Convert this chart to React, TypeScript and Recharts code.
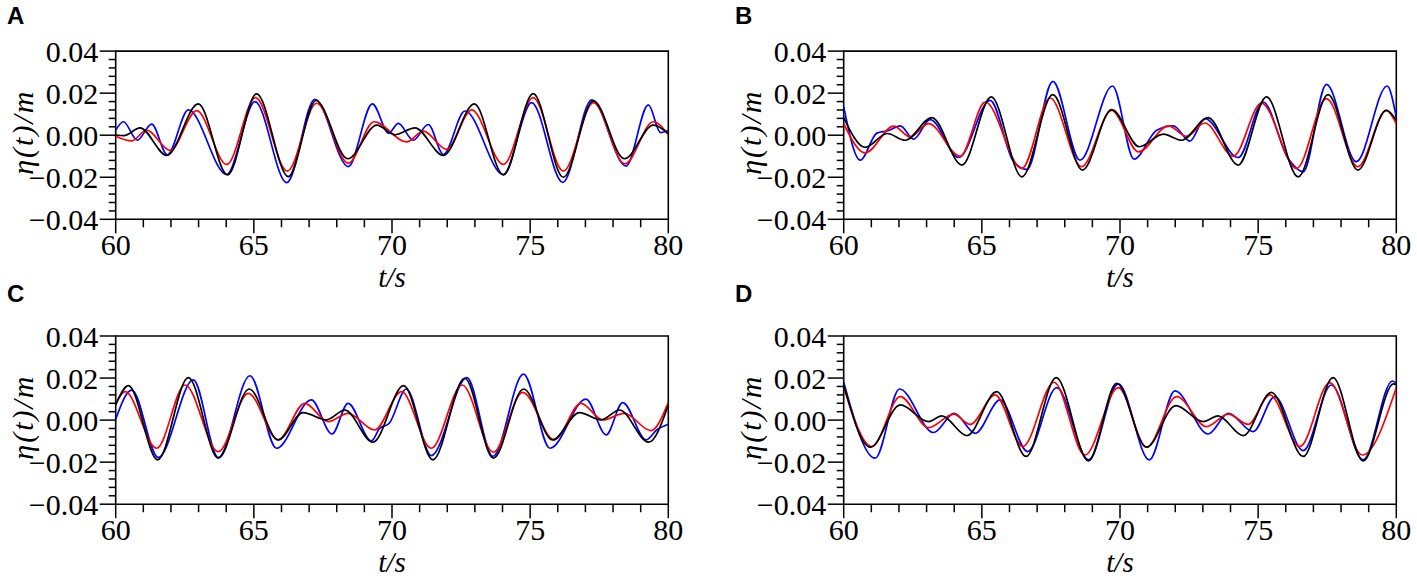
import { LineChart, Line, XAxis, YAxis, ReferenceArea } from 'recharts';

type Pt = [number, number];

// time axis (s) and elevation axis (m)
const X_TICKS = [60, 61, 62, 63, 64, 65, 66, 67, 68, 69, 70, 71, 72, 73, 74, 75, 76, 77, 78, 79, 80];
const X_LABELS = [60, 65, 70, 75, 80];
const Y_TICKS = [-0.04, -0.036, -0.032, -0.028, -0.024, -0.02, -0.016, -0.012, -0.008, -0.004, 0,
    0.004, 0.008, 0.012, 0.016, 0.02, 0.024, 0.028, 0.032, 0.036, 0.04];
const Y_LABELS = [-0.04, -0.02, 0, 0.02, 0.04];

// panel A
const A_BLUE: Pt[] = [[60, 0.0024], [60.28, 0.0064], [60.78, -0.0024], [61.3, 0.0053], [61.87, -0.0093], [62.63, 0.012],
    [64.02, -0.0187], [65.04, 0.016], [66.19, -0.0226], [67.21, 0.0171], [68.42, -0.0149], [69.29, 0.0149], [69.88, 0.001],
    [70.23, 0.0056], [70.77, -0.0024], [71.31, 0.0051], [71.86, -0.0091], [72.64, 0.0115], [74.03, -0.0187], [75.05, 0.0155],
    [76.18, -0.0224], [77.23, 0.0168], [78.47, -0.0147], [79.28, 0.0144], [79.72, 0.0012], [80, 0.0022]];
const A_RED: Pt[] = [[60, -0.0005], [60.58, -0.0027], [61.12, 0.0024], [61.97, -0.0072], [62.93, 0.0117], [64.02, -0.0139],
    [65.06, 0.0179], [66.21, -0.0171], [67.27, 0.0152], [68.42, -0.0133], [69.35, 0.0064], [70.53, -0.0032], [71.13, 0.0019],
    [71.98, -0.0067], [72.88, 0.012], [74.03, -0.0139], [75.11, 0.0179], [76.2, -0.0171], [77.29, 0.0155], [78.43, -0.0136],
    [79.46, 0.0064], [80, 0.0003]];
const A_BLACK: Pt[] = [[60, 0.0001], [60.3, -0.0002], [60.88, 0.0035], [61.85, -0.0096], [62.99, 0.0149], [64.05, -0.0189],
    [65.1, 0.0197], [66.25, -0.0197], [67.25, 0.0165], [68.4, -0.0112], [69.45, 0.0048], [70.1, 0.0002], [70.83, 0.0035],
    [71.86, -0.0096], [72.98, 0.0149], [74.03, -0.0189], [75.11, 0.0198], [76.2, -0.02], [77.29, 0.0163], [78.41, -0.0112],
    [79.46, 0.0048], [80, 0.0008]];

// panel B
const B_BLUE: Pt[] = [[60, 0.0134], [60.6, -0.0119], [61.2, 0.001], [61.6, 0.0021], [62.05, 0.0044], [62.53, -0.0019],
    [63.13, 0.0074], [64.16, -0.0106], [65.3, 0.0166], [66.14, -0.0124], [66.63, -0.0163], [67.57, 0.0256], [68.55, -0.0119],
    [69.73, 0.0234], [70.51, -0.0114], [71.33, 0.0024], [71.93, 0.0044], [72.53, -0.0028], [73.07, 0.0079], [74.28, -0.0106],
    [75.18, 0.0158], [76.08, -0.011], [76.63, -0.0174], [77.47, 0.0242], [78.55, -0.0126], [79.67, 0.0234], [80, 0.0084]];
const B_RED: Pt[] = [[60, 0.0055], [60.78, -0.0084], [61.81, 0.0043], [62.41, -0.0008], [63.07, 0.0055], [64.22, -0.01],
    [65.12, 0.0158], [66.45, -0.0158], [67.47, 0.0177], [68.61, -0.015], [69.7, 0.0118], [70.67, -0.0079], [71.75, 0.0044],
    [72.41, -0.0005], [73.07, 0.0058], [74.1, -0.01], [75.12, 0.0153], [76.39, -0.0158], [77.47, 0.0174], [78.61, -0.015],
    [79.64, 0.0118], [80, 0.0055]];
const B_BLACK: Pt[] = [[60, 0.0084], [60.78, -0.0058], [61.57, 0.0008], [62.23, -0.0024], [63.19, 0.0084], [64.28, -0.0142],
    [65.34, 0.0182], [66.45, -0.0198], [67.57, 0.0193], [68.64, -0.0166], [69.7, 0.0122], [70.7, -0.0055], [71.57, 0.0005],
    [72.23, -0.0024], [73.19, 0.0084], [74.28, -0.0142], [75.3, 0.0182], [76.45, -0.0198], [77.53, 0.0193], [78.61, -0.0166],
    [79.64, 0.0118], [80, 0.0071]];

// panel C
const C_BLUE: Pt[] = [[60, 0.0004], [60.58, 0.0143], [61.54, -0.0178], [62.81, 0.0191], [63.71, -0.0178], [64.86, 0.0211],
    [65.82, -0.0134], [67.08, 0.0096], [67.83, -0.0066], [68.41, 0.008], [69.25, -0.0099], [69.55, -0.004], [69.9, -0.0015],
    [70.52, 0.0148], [71.42, -0.0169], [72.71, 0.0202], [73.65, -0.0173], [74.76, 0.0219], [75.72, -0.0134], [77.02, 0.01],
    [77.75, -0.007], [78.35, 0.0083], [79.2, -0.0094], [79.58, -0.0047], [80, -0.002]];
const C_RED: Pt[] = [[60, 0.008], [60.34, 0.0135], [61.48, -0.0134], [62.51, 0.0167], [63.71, -0.015], [64.8, 0.0127],
    [65.88, -0.0094], [66.84, 0.008], [67.69, -0.0007], [68.41, 0.0032], [69.37, -0.0047], [70.34, 0.0135], [71.42, -0.0134],
    [72.54, 0.0167], [73.67, -0.0153], [74.73, 0.0132], [75.87, -0.0094], [76.84, 0.008], [77.63, 0.0001], [78.41, 0.0032],
    [79.37, -0.005], [80, 0.0085]];
const C_BLACK: Pt[] = [[60, 0.0072], [60.46, 0.0164], [61.52, -0.0189], [62.63, 0.0202], [63.71, -0.0181], [64.83, 0.0148],
    [65.88, -0.0094], [66.78, 0.0036], [67.63, 0.0001], [68.29, 0.0048], [69.31, -0.0105], [70.42, 0.0164], [71.48, -0.0189],
    [72.63, 0.0199], [73.67, -0.0181], [74.76, 0.0148], [75.81, -0.0094], [76.78, 0.0036], [77.57, 0.0001], [78.23, 0.0048],
    [79.29, -0.0105], [80, 0.0072]];

// panel D
const D_BLUE: Pt[] = [[60, 0.018], [61.14, -0.0181], [62.02, 0.0148], [63.25, -0.0059], [64.0, 0.0032], [64.76, -0.0063],
    [65.66, 0.0096], [66.66, -0.015], [67.71, 0.0154], [68.86, -0.0189], [69.94, 0.0172], [71.06, -0.0189], [71.99, 0.0139],
    [73.19, -0.0066], [73.92, 0.0032], [74.82, -0.0055], [75.6, 0.0112], [76.63, -0.0145], [77.65, 0.0167], [78.8, -0.0189],
    [79.86, 0.0186], [80, 0.0175]];
const D_RED: Pt[] = [[60, 0.0159], [61.02, -0.0126], [62.05, 0.0112], [63.07, -0.0036], [63.98, 0.0028], [64.58, -0.002],
    [65.48, 0.012], [66.48, -0.0126], [67.61, 0.018], [68.73, -0.0166], [69.94, 0.0154], [70.96, -0.0129], [72.05, 0.0112],
    [73.13, -0.0031], [73.92, 0.0028], [74.64, -0.002], [75.42, 0.012], [76.51, -0.0126], [77.59, 0.0178], [78.77, -0.0166],
    [80, 0.0154]];
const D_BLACK: Pt[] = [[60, 0.0167], [60.96, -0.0129], [62.05, 0.0072], [63.07, -0.0007], [63.55, 0.002], [64.46, -0.0074],
    [65.54, 0.0135], [66.6, -0.0173], [67.69, 0.0202], [68.86, -0.0194], [69.88, 0.0175], [70.96, -0.0129], [72.02, 0.0069],
    [73.01, -0.0007], [73.55, 0.002], [74.46, -0.0074], [75.48, 0.0132], [76.63, -0.0173], [77.71, 0.0202], [78.8, -0.0194],
    [79.9, 0.0172], [80, 0.0168]];

const serif = { fontFamily: "'Liberation Serif', 'DejaVu Serif', serif" };
const sans = { fontFamily: "'Liberation Sans', 'DejaVu Sans', sans-serif" };

// chart box and plot area inside it
const W = 708;
const PL = 115.7;
const PW = 552.6;
const PH = 168.2;
const Y_AXIS_W = 60;
const X_AXIS_H = 30;

const toPts = (p: Pt[]) => p.map(([t, v]) => ({ t, v }));

const fmtY = (v: number) => (v < 0 ? '\u2212' + Math.abs(v).toFixed(2) : v.toFixed(2));

const renderXTick = (props: any) => {
    const { x, y, payload } = props;
    const major = X_LABELS.includes(payload.value);
    return (
        <g>
            <line x1={x} x2={x} y1={y} y2={y + (major ? 14 : 8)} stroke="#000" strokeWidth={1.5} />
            {major && (
                <text x={x} y={y + 35.5} textAnchor="middle" style={serif} fontSize={30} fill="#000">
                    {payload.value}
                </text>
            )}
        </g>
    );
};

const renderYTick = (props: any) => {
    const { x, y, payload } = props;
    const major = Y_LABELS.some((l) => Math.abs(l - payload.value) < 1e-9);
    return (
        <g>
            <line x1={x - (major ? 16 : 7)} x2={x} y1={y} y2={y} stroke="#000" strokeWidth={1.5} />
            {major && (
                <text x={x - 17.5} y={y + 10.5} textAnchor="end" style={serif} fontSize={30} fill="#000">
                    {fmtY(payload.value)}
                </text>
            )}
        </g>
    );
};

const Panel = ({ letter, letterY, left, top, pt, h, blue, red, black }: {
    letter: string; letterY: number; left: number; top: number; pt: number; h: number;
    blue: Pt[]; red: Pt[]; black: Pt[];
}) => {
    const xTitle = () => (
        <text x={PL + PW / 2} y={pt + PH + 67.5} textAnchor="middle" style={serif} fontStyle="italic" fontSize={29} fill="#000">
            t/s
        </text>
    );
    const yTitle = () => (
        <g>
            <text transform={`translate(33, ${pt + PH / 2 - 3}) rotate(-90)`} textAnchor="middle" style={serif}
                fontStyle="italic" fontSize={30} letterSpacing={2} fill="#000">
                η(t)/m
            </text>
            <text x={7} y={letterY} style={sans} fontWeight="bold" fontSize={24} fill="#000">{letter}</text>
        </g>
    );
    return (
        <div style={{ position: 'absolute', left, top }}>
            <LineChart width={W} height={h}
                margin={{ top: pt, left: PL - Y_AXIS_W, right: W - PL - PW, bottom: h - pt - PH - X_AXIS_H }}>
                <XAxis type="number" dataKey="t" domain={[60, 80]} ticks={X_TICKS} interval={0} allowDataOverflow
                    axisLine={false} tickLine={false} tickSize={0} tickMargin={0} height={X_AXIS_H}
                    tick={renderXTick} label={xTitle} />
                <YAxis type="number" dataKey="v" domain={[-0.04, 0.04]} ticks={Y_TICKS} interval={0} allowDataOverflow
                    axisLine={false} tickLine={false} tickSize={0} tickMargin={0} width={Y_AXIS_W}
                    tick={renderYTick} label={yTitle} />
                <ReferenceArea x1={60} x2={80} y1={-0.04} y2={0.04} fill="none" stroke="#000" strokeWidth={1.6} />
                <Line data={toPts(blue)} dataKey="v" type="monotone" stroke="#0000ff" strokeWidth={1.7}
                    dot={false} activeDot={false} isAnimationActive={false} />
                <Line data={toPts(red)} dataKey="v" type="monotone" stroke="#ff0000" strokeWidth={1.7}
                    dot={false} activeDot={false} isAnimationActive={false} />
                <Line data={toPts(black)} dataKey="v" type="monotone" stroke="#000000" strokeWidth={1.7}
                    dot={false} activeDot={false} isAnimationActive={false} />
            </LineChart>
        </div>
    );
};

const App = () => (
    <div style={{ position: 'absolute', left: 0, top: 0, width: 1417, height: 584, background: '#fff' }}>
        <Panel letter="A" letterY={24} left={0} top={0} pt={51.1} h={300} blue={A_BLUE} red={A_RED} black={A_BLACK} />
        <Panel letter="B" letterY={24} left={727.6} top={0} pt={51.1} h={300} blue={B_BLUE} red={B_RED} black={B_BLACK} />
        <Panel letter="C" letterY={37} left={0} top={265} pt={71} h={315} blue={C_BLUE} red={C_RED} black={C_BLACK} />
        <Panel letter="D" letterY={37} left={727.6} top={265} pt={71} h={315} blue={D_BLUE} red={D_RED} black={D_BLACK} />
    </div>
);

export default App;
